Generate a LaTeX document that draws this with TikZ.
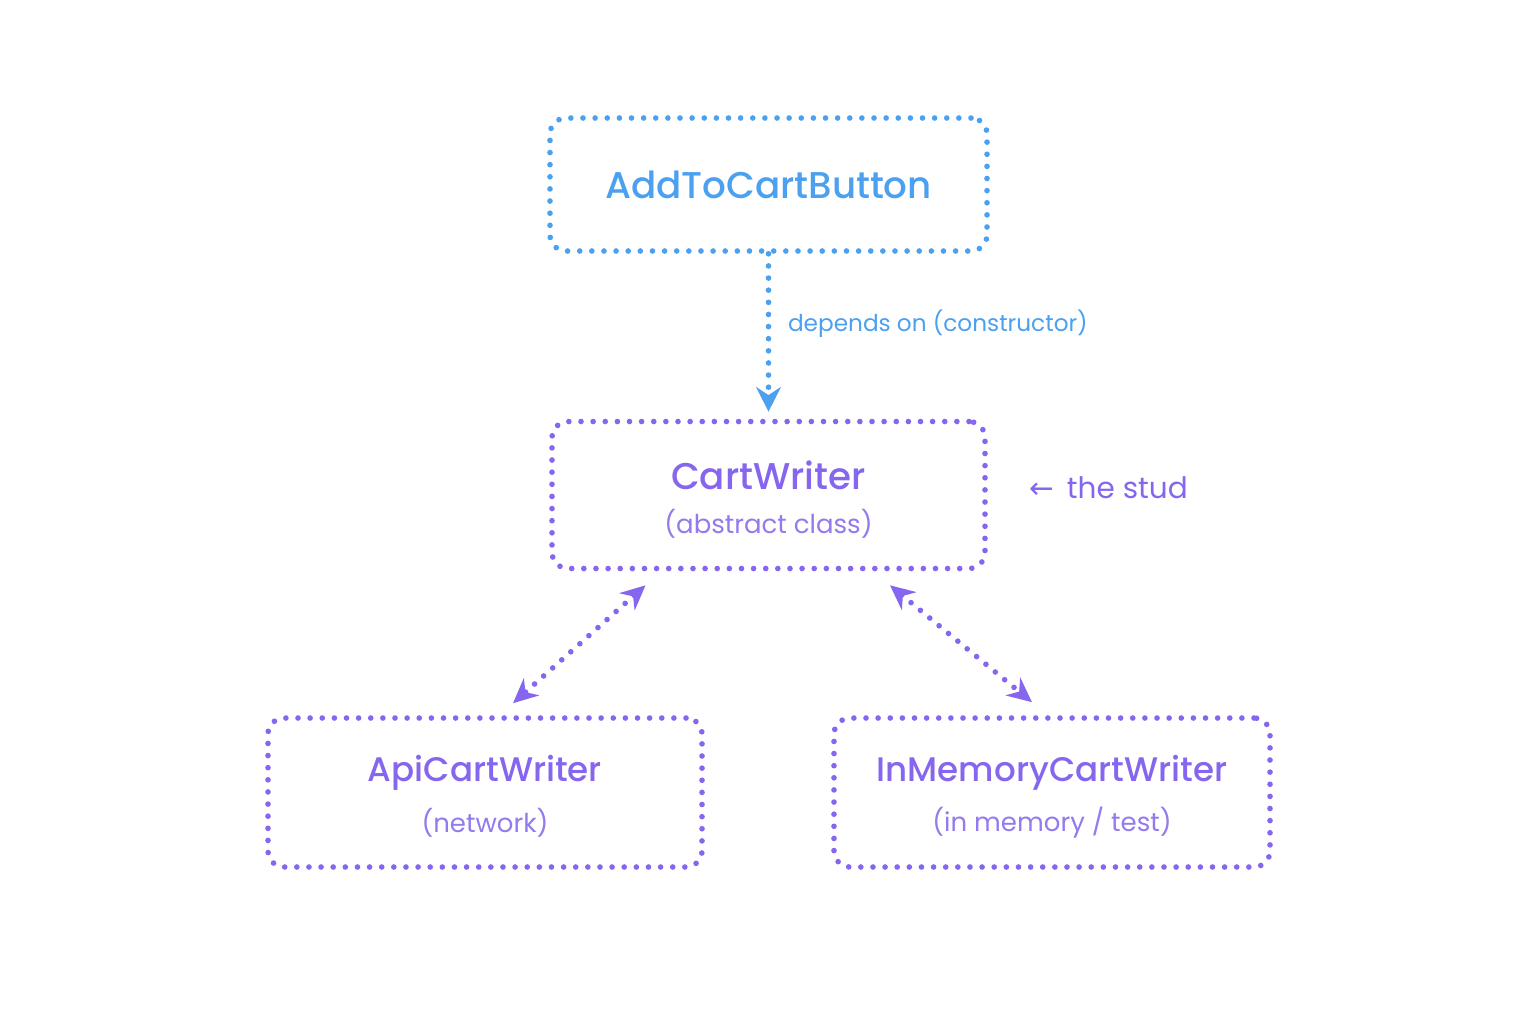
\documentclass[tikz,border=0pt]{standalone}
\usepackage{fontspec}
\setmainfont{Poppins}
\newfontfamily\medium{Poppins Medium}
\newfontfamily\arrowfont{DejaVu Sans}
\usetikzlibrary{arrows.meta,calc}

\definecolor{btnblue}{HTML}{4BA0F0}
\definecolor{studpurple}{HTML}{8666EE}
\definecolor{subpurple}{HTML}{9579EE}

\tikzset{
  dotline/.style={line width=1.6pt, line cap=round, dash pattern=on 0pt off 3.45pt},
  classbox/.style={dotline, draw=studpurple, rounded corners=0.16cm, minimum width=4.33cm, minimum height=1.47cm},
  title/.style={font=\medium\fontsize{10.6}{13}\selectfont, inner sep=0pt},
  subtitle/.style={font=\fontsize{7.4}{9}\selectfont, text=subpurple, inner sep=0pt},
  link/.style={dotline, draw=studpurple, {Stealth[length=7pt,width=6.5pt]}-{Stealth[length=7pt,width=6.5pt]}}
}

\begin{document}
\begin{tikzpicture}[x=1cm,y=1cm]
  \useasboundingbox[fill=white] (0,0) rectangle (15.36,-10.24);

  \node[dotline, draw=btnblue, rounded corners=0.16cm, minimum width=4.37cm,
    minimum height=1.33cm] (add) at (7.685,-1.845) {};
  \node[title, text=btnblue] (addT) at (add) {AddToCartButton};

  \node[classbox] (cw) at (7.685,-4.95) {};
  \node[classbox, minimum width=4.34cm, minimum height=1.49cm] (api) at (4.85,-7.925) {};
  \node[classbox, minimum width=4.36cm, minimum height=1.49cm] (inm) at (10.52,-7.925) {};

  \node[title, text=studpurple] (cwT) at ($(cw)+(0,0.2)$) {CartWriter};
  \node[subtitle] (cwS) at ($(cw)+(0,-0.29)$) {(abstract class)};
  \foreach \n/\t/\s in {api/ApiCartWriter/{(network)},
    inm/InMemoryCartWriter/{(in memory / test)}}{
    \node[title, text=studpurple, font=\medium\fontsize{9.7}{12}\selectfont] (\n T)
      at ($(\n)+(0,0.2)$) {\t};
    \node[subtitle] (\n S) at ($(\n)+(0,-0.3)$) {\s};
  }

  \draw[dotline, draw=btnblue, -{Stealth[length=7pt,width=7pt]}, shorten >=0.07cm]
    (add.south) -- (cw.north)
    node[midway, right=0.05cm, yshift=0.13cm, font=\fontsize{6.6}{8}\selectfont, text=btnblue] (dep)
    {depends on (constructor)};

  \node[font=\fontsize{8.4}{10}\selectfont, text=studpurple, anchor=west] (stud)
    at (10.17,-4.88) {{\arrowfont ←}\, the stud};

  \draw[link] ($(cw.south)+(-1.23,-0.14)$) -- ($(api.north)+(0.28,0.12)$);
  \draw[link] ($(cw.south)+(1.215,-0.14)$) -- ($(inm.north)+(-0.2,0.13)$);
\end{tikzpicture}
\end{document}
